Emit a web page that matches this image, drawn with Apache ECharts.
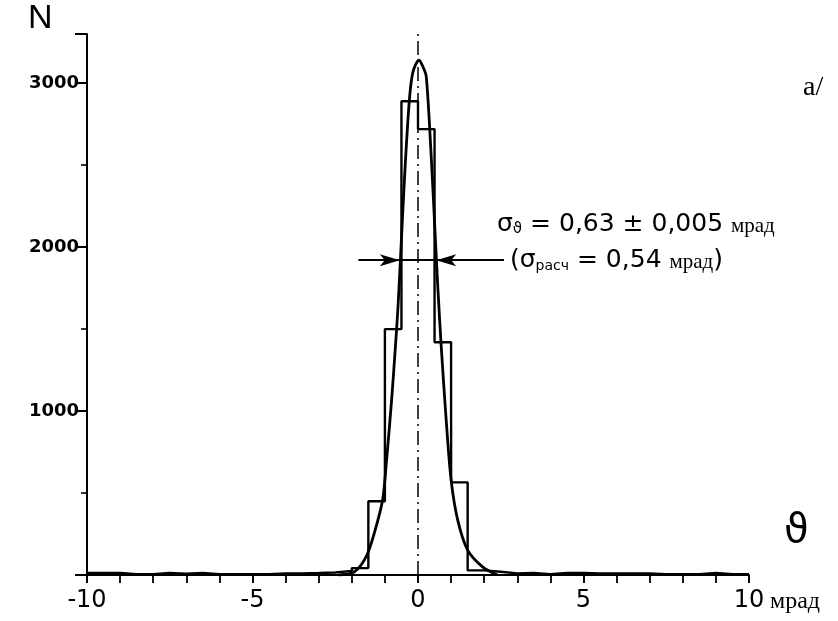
<!DOCTYPE html>
<html>
<head>
<meta charset="utf-8">
<script src="https://cdn.jsdelivr.net/npm/echarts@6/dist/echarts.min.js"></script>
<style>html,body{margin:0;padding:0;background:#fff;}#c{width:838px;height:621px;}</style>
</head>
<body>
<div id="c"></div>
<script>
// Histogram bin edges (mrad) and counts per bin
const binEdges = [-10,-9.5,-9,-8.5,-8,-7.5,-7,-6.5,-6,-5.5,-5,-4.5,-4,-3.5,-3,-2.5,-2,-1.5,-1,-0.5,0,0.5,1,1.5,2,2.5,3,3.5,4,4.5,5,5.5,6,6.5,7,7.5,8,8.5,9,9.5,10];
const counts = [12,12,5,5,12,8,12,5,5,5,5,10,10,12,15,25,42,450,1500,2890,2720,1420,565,28,20,10,12,5,12,12,10,10,10,10,5,5,5,12,5,5];
// Fitted curve
const curveX = [-2.4,-1.92,-1.57,-1.32,-1.07,-0.95,-0.8,-0.68,-0.6,-0.5,-0.4,-0.26,-0.15,0.03,0.15,0.25,0.4,0.5,0.6,0.7,0.85,1.0,1.2,1.5,1.95,2.4];
const curveN = [0,20,110,256,457,700,1060,1400,1650,2050,2450,2900,3070,3140,3100,3040,2550,2150,1750,1400,950,580,335,152,50,0];
// Axis ticks
const yLabels = [1000,2000,3000];
const xLabels = [-10,-5,0,5,10];
// Width annotation (arrow level and arrow tips)
const arrowLevel = 1920;
const arrowStart = -1.8, arrowEnd = 2.6;
const tipLeft = -0.55, tipRight = 0.55;
// Centre (dash-dot) line extent
const centreTop = 3300;

const histData = counts.map((c,i)=>[binEdges[i], c]);
histData.push([binEdges[binEdges.length-1], counts[counts.length-1]]);
const curveData = curveX.map((x,i)=>[x, curveN[i]]);

const chart = echarts.init(document.getElementById('c'));
const black = '#000';
const dashDot = [14,5,2,5];
chart.setOption({
  animation:false,
  backgroundColor:'#fff',
  grid:{left:87,right:89,top:34,bottom:46},
  xAxis:{
    type:'value',min:-10,max:10,interval:5,
    axisLine:{onZero:false,lineStyle:{color:black,width:2}},
    axisTick:{show:true,length:8,lineStyle:{color:black,width:2}},
    minorTick:{show:true,splitNumber:5,length:8,lineStyle:{color:black,width:1.8}},
    splitLine:{show:false},minorSplitLine:{show:false},
    axisLabel:{margin:14,color:black,fontFamily:'DejaVu Sans',fontSize:24,
      formatter:v=>xLabels.indexOf(v)>=0?String(v):''}
  },
  yAxis:{
    type:'value',min:0,max:3300,interval:1000,
    axisLine:{onZero:false,lineStyle:{color:black,width:2}},
    axisTick:{show:true,length:12,lineStyle:{color:black,width:2}},
    minorTick:{show:true,splitNumber:2,length:6,lineStyle:{color:black,width:1.6}},
    splitLine:{show:false},
    axisLabel:{margin:8,color:black,fontFamily:'DejaVu Sans',fontWeight:'bold',fontSize:18,
      showMaxLabel:false,
      formatter:v=>yLabels.indexOf(v)>=0?String(v):''}
  },
  series:[
    {type:'line',step:'end',data:histData,symbol:'none',silent:true,
     lineStyle:{color:black,width:2.4},z:2},
    {type:'line',data:curveData,symbol:'none',smooth:0.3,silent:true,
     lineStyle:{color:black,width:2.8},z:3,
     markLine:{silent:true,symbol:['none','none'],label:{show:false},animation:false,
       lineStyle:{color:black,width:2,type:'solid'},
       data:[
         [{coord:[arrowStart,arrowLevel],symbol:'none'},{coord:[tipLeft,arrowLevel],symbol:'arrow',symbolSize:[9,20]}],
         [{coord:[arrowEnd,arrowLevel],symbol:'none'},{coord:[tipRight,arrowLevel],symbol:'arrow',symbolSize:[9,20]}],
         [{coord:[tipLeft,arrowLevel]},{coord:[tipRight,arrowLevel]}],
         [{coord:[0,0],lineStyle:{type:dashDot,width:1.5}},{coord:[0,centreTop],lineStyle:{type:dashDot,width:1.5}}]
       ]}
    }
  ],
  graphic:[
    {type:'text',left:28,top:2,style:{text:'N',fill:black,fontFamily:'Liberation Sans',fontSize:34}},
    {type:'text',left:803,top:74,style:{text:'a/',fill:black,fontFamily:'Liberation Serif',fontSize:28}},
    {type:'text',left:784,top:512,style:{text:'ϑ',fill:black,fontFamily:'DejaVu Sans',fontSize:40}},
    {type:'text',left:770,top:590,style:{text:'мрад',fill:black,fontFamily:'Liberation Serif',fontSize:24}},
    {type:'text',left:497,top:212,style:{
      text:'{m|σ}{s|ϑ}{m| = 0,63 ± 0,005 }{u|мрад}',
      rich:{
        m:{fontFamily:'DejaVu Sans',fontSize:25,fill:black,verticalAlign:'bottom',lineHeight:32},
        s:{fontFamily:'DejaVu Sans',fontSize:15,fill:black,verticalAlign:'bottom',lineHeight:24},
        u:{fontFamily:'Liberation Serif',fontSize:21,fill:black,verticalAlign:'bottom',lineHeight:30}
      }}},
    {type:'text',left:510,top:248,style:{
      text:'{m|(σ}{s|расч}{m| = 0,54 }{u|мрад}{m|)}',
      rich:{
        m:{fontFamily:'DejaVu Sans',fontSize:25,fill:black,verticalAlign:'bottom',lineHeight:32},
        s:{fontFamily:'DejaVu Sans',fontSize:14,fill:black,verticalAlign:'bottom',lineHeight:24},
        u:{fontFamily:'Liberation Serif',fontSize:21,fill:black,verticalAlign:'bottom',lineHeight:30}
      }}}
  ]
});
</script>
</body>
</html>
